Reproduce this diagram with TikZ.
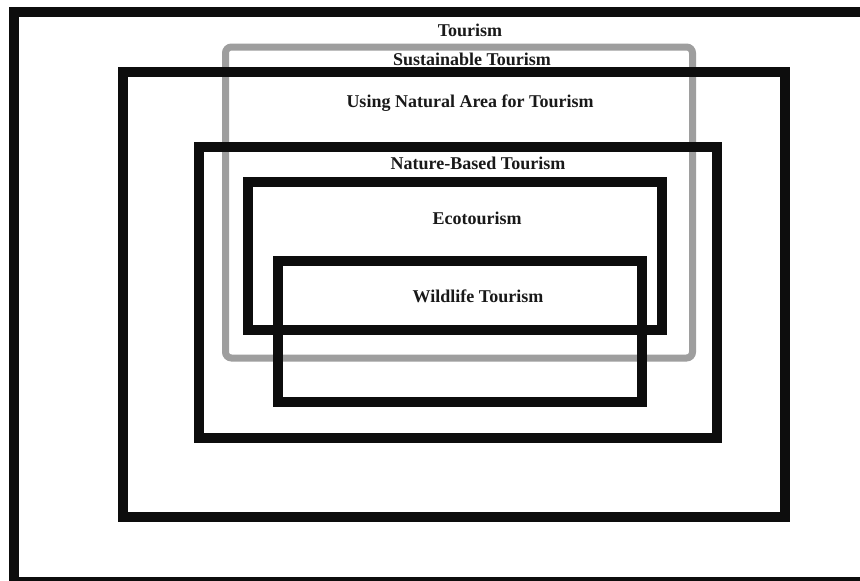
\documentclass[tikz,border=0pt]{standalone}
\usepackage{fontspec}
\setmainfont{Liberation Serif}
\begin{document}
\begin{tikzpicture}[x=1pt,y=-1pt,
  frame/.style={draw=black!95,line width=10pt},
  softframe/.style={draw=black!38,line width=7pt,rounded corners=6pt},
  lbl/.style={font=\bfseries\fontsize{18}{20}\selectfont,text=black!90,inner sep=0pt,anchor=center}]
\useasboundingbox (0,0) rectangle (860,581);
\clip (0,0) rectangle (860,581);
\fill[white] (0,0) rectangle (860,581);
% gray sustainable tourism box
\draw[softframe] (225.5,47) rectangle (692.5,358);
% outer boxes
\draw[frame] (14,12) rectangle (868,582);
\draw[frame] (123,72) rectangle (784.5,517);
\draw[frame] (199,147) rectangle (717,438);
\draw[frame] (248,181.5) rectangle (662,330);
\draw[frame] (278,261) rectangle (641.5,402);
% labels
\node[lbl] (tour) at (470,30) {Tourism};
\node[lbl] (sust) at (472,59) {Sustainable Tourism};
\node[lbl] (nat) at (470,103) {Using Natural Area for Tourism};
\node[lbl] (nbt) at (478,163) {Nature-Based Tourism};
\node[lbl] (eco) at (477,218) {Ecotourism};
\node[lbl] (wild) at (478,296) {Wildlife Tourism};
\end{tikzpicture}
\end{document}
